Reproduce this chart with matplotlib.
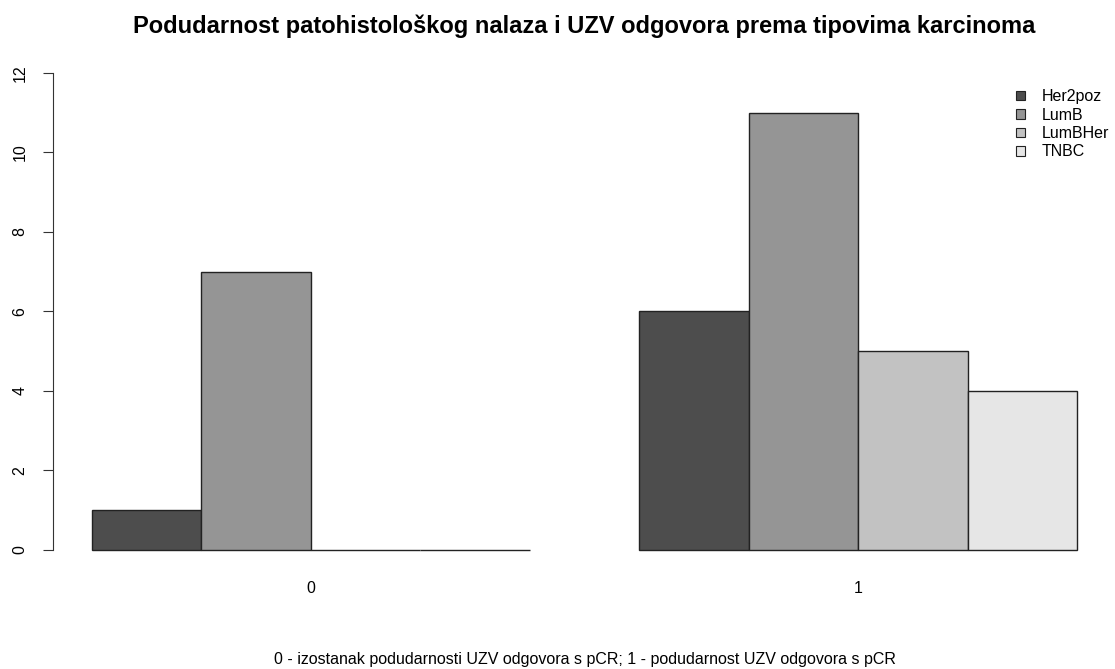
import numpy as np
import matplotlib.pyplot as plt
from matplotlib.patches import Patch

plt.rcParams['font.family'] = ['Liberation Sans', 'DejaVu Sans']

# Input source data
groups = ['0', '1']
types = ['Her2poz', 'LumB', 'LumBHer', 'TNBC']
her2poz = [1, 6]
lumb = [7, 11]
lumbher = [0, 5]
tnbc = [0, 4]
colors = ['#4D4D4D', '#959595', '#C2C2C2', '#E6E6E6']

series = [her2poz, lumb, lumbher, tnbc]

fig = plt.figure(figsize=(11.15, 6.69), dpi=100)
ax = fig.add_axes([0.0472, 0.1495, 0.954, 0.770])

# R-style beside barplot: width 1, space 1 between groups
width = 1.0
group_left = np.array([1.0, 6.0])
for i, (vals, col) in enumerate(zip(series, colors)):
    ax.bar(group_left + i * width, vals, width, align='edge',
           color=col, edgecolor='#222222', linewidth=1.0)

ax.set_xlim(1 - 0.36, 10 + 0.36)
ax.set_ylim(-0.48, 12.48)

ax.set_xticks(group_left + 2 * width)
ax.set_xticklabels(groups, fontsize=11.5)
ax.tick_params(axis='x', length=0, pad=9)

ax.set_yticks(range(0, 13, 2))
ax.set_yticklabels([str(v) for v in range(0, 13, 2)], rotation=90,
                   va='center', fontsize=11.5)
ax.tick_params(axis='y', length=7, pad=11, color='#333333')

for s in ['top', 'right', 'bottom']:
    ax.spines[s].set_visible(False)
ax.spines['left'].set_bounds(0, 12)
ax.spines['left'].set_color('#333333')

# title and caption are centred over the plot region, as in R
xc = 0.0472 + 0.954 / 2
fig.text(xc, 0.9507, 'Podudarnost patohistološkog nalaza i UZV odgovora prema tipovima karcinoma',
         ha='center', va='baseline', fontsize=17, fontweight='bold')

fig.text(xc, 0.0135, '0 - izostanak podudarnosti UZV odgovora s pCR; 1 - podudarnost UZV odgovora s pCR',
         ha='center', va='center', fontsize=11.5)

handles = [Patch(facecolor=c, edgecolor='#222222', linewidth=0.8) for c in colors]
fig.legend(handles, types, loc='upper left', bbox_to_anchor=(0.911, 0.8665),
           frameon=False, fontsize=11.5, handlelength=0.55, handleheight=0.55,
           handletextpad=1.05, labelspacing=0.21, borderpad=0, borderaxespad=0)

plt.savefig('out.png', dpi=100)
